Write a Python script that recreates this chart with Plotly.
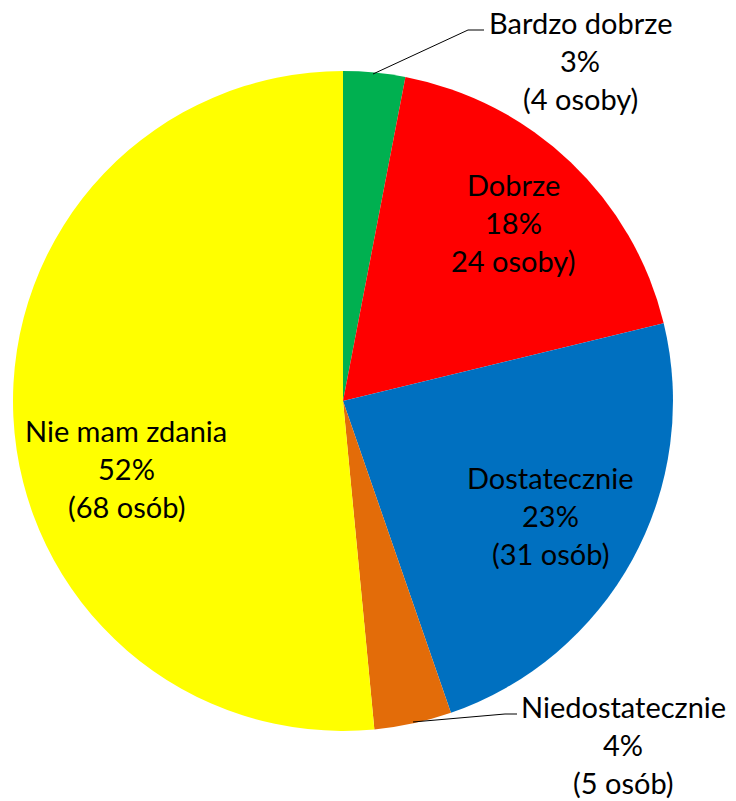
import plotly.graph_objects as go

categories = ["Bardzo dobrze", "Dobrze", "Dostatecznie", "Niedostatecznie", "Nie mam zdania"]
counts = [4, 24, 31, 5, 68]
count_labels = ["(4 osoby)", "24 osoby)", "(31 osób)", "(5 osób)", "(68 osób)"]
colors = ["#00B050", "#FF0000", "#0070C0", "#E36C09", "#FFFF00"]

W, H = 736, 801
total = sum(counts)
pcts = [f"{round(c / total * 100)}%" for c in counts]

# label anchor (centre of the first line, pixels) for each slice
label_pos = [(580, 23), (513, 184), (550, 477), (623, 706), (126, 430)]
line_gap = 38

def px(x):
    return x / W

def py(y):
    return 1 - y / H

fig = go.Figure(go.Pie(
    labels=categories,
    values=counts,
    sort=False,
    direction="clockwise",
    rotation=0,
    marker=dict(colors=colors, line=dict(width=0)),
    textinfo="none",
    hoverinfo="label+value+percent",
    showlegend=False,
    domain=dict(x=[px(13), px(673)], y=[py(731), py(71)]),
))

annotations = []
for i, cat in enumerate(categories):
    cx, cy = label_pos[i]
    for j, t in enumerate([cat, pcts[i], count_labels[i]]):
        annotations.append(dict(
            x=px(cx), y=py(cy + j * line_gap), xref="paper", yref="paper",
            text=t, showarrow=False, xanchor="center", yanchor="middle",
            font=dict(family="Lato, Carlito, sans-serif", size=29, color="#000000"),
        ))

shapes = [
    dict(type="path", xref="paper", yref="paper",
         path=f"M {px(373)},{py(74)} L {px(468)},{py(30)} L {px(484)},{py(30)}",
         line=dict(color="#000000", width=1)),
    dict(type="path", xref="paper", yref="paper",
         path=f"M {px(413)},{py(722)} L {px(505)},{py(714)} L {px(517)},{py(714)}",
         line=dict(color="#000000", width=1)),
]

fig.update_layout(
    width=W, height=H,
    margin=dict(l=0, r=0, t=0, b=0),
    paper_bgcolor="#FFFFFF",
    plot_bgcolor="#FFFFFF",
    annotations=annotations,
    shapes=shapes,
)

fig.write_html("out.html", config={"displayModeBar": False})

# remove the default body margin so the figure sits at the window's top-left corner
with open("out.html", "r", encoding="utf-8") as f:
    html = f.read()
html = html.replace("<head>", "<head><style>html,body{margin:0;padding:0;overflow:hidden;}</style>", 1)
with open("out.html", "w", encoding="utf-8") as f:
    f.write(html)
